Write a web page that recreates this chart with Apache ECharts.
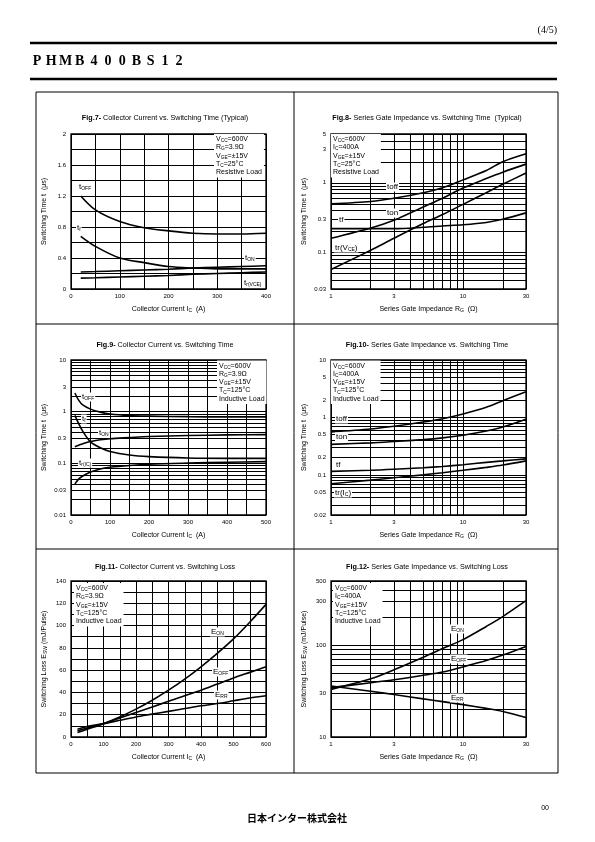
<!DOCTYPE html>
<html><head><meta charset="utf-8">
<script src="https://cdn.jsdelivr.net/npm/echarts@6/dist/echarts.min.js"></script>
<style>html,body{margin:0;padding:0;background:#fff}#c{width:595px;height:842px}</style>
</head><body><div id="c"></div>
<script>
// ---------------- DATA ----------------
// Fig.7  Collector current (A) vs switching time (us), Tc=25C resistive
const f7_x    = [20, 50, 100, 150, 200, 250, 300, 350, 400];
const f7_toff = [1.20, 1.02, 0.87, 0.79, 0.75, 0.72, 0.71, 0.71, 0.72];
const f7_tf   = [0.68, 0.55, 0.40, 0.34, 0.29, 0.27, 0.26, 0.26, 0.26];
const f7_ton  = [0.22, 0.225, 0.235, 0.245, 0.255, 0.27, 0.28, 0.29, 0.30];
const f7_tr   = [0.14, 0.145, 0.155, 0.165, 0.175, 0.19, 0.20, 0.21, 0.22];
const f7_xTicks = [0, 100, 200, 300, 400];
const f7_xGrid  = [0, 50, 100, 150, 200, 250, 300, 350, 400];
const f7_yTicks = [0, 0.4, 0.8, 1.2, 1.6, 2];
const f7_yGrid  = [0, 0.2, 0.4, 0.6, 0.8, 1.0, 1.2, 1.4, 1.6, 1.8, 2];

// Fig.8  Series gate impedance (ohm) vs switching time (us), Tc=25C
const f8_x    = [1, 2, 3, 5, 7, 10, 15, 20, 30];
const f8_toff = [0.50, 0.54, 0.60, 0.72, 0.85, 1.10, 1.50, 2.00, 2.60];
const f8_ton  = [0.16, 0.225, 0.29, 0.45, 0.60, 0.84, 1.15, 1.42, 1.85];
const f8_tf   = [0.22, 0.22, 0.22, 0.23, 0.24, 0.25, 0.27, 0.30, 0.37];
const f8_tr   = [0.057, 0.108, 0.16, 0.26, 0.35, 0.49, 0.72, 0.95, 1.38];
const f8_yTicks = [0.03, 0.1, 0.3, 1, 3, 5];
const f8_yGrid  = [0.03, 0.04, 0.05, 0.06, 0.07, 0.08, 0.09, 0.1, 0.2, 0.3, 0.4, 0.5, 0.6, 0.7, 0.8, 0.9, 1, 2, 3, 4, 5];

// Fig.9  Collector current vs switching time, Tc=125C inductive
const f9_x    = [10, 20, 30, 50, 75, 100, 150, 200, 300, 400, 500];
const f9_toff = [2.3, 1.65, 1.35, 1.12, 0.98, 0.90, 0.84, 0.82, 0.80, 0.79, 0.79];
const f9_tf   = [0.85, 0.58, 0.42, 0.26, 0.20, 0.17, 0.145, 0.135, 0.127, 0.125, 0.125];
const f9_ton  = [0.21, 0.225, 0.24, 0.265, 0.285, 0.30, 0.315, 0.33, 0.345, 0.355, 0.36];
const f9_tr   = [0.04, 0.05, 0.057, 0.068, 0.078, 0.084, 0.091, 0.096, 0.101, 0.105, 0.108];
const f9_xTicks = [0, 100, 200, 300, 400, 500];
const f9_xGrid  = [0, 50, 100, 150, 200, 250, 300, 350, 400, 450, 500];
const f9_yTicks = [0.01, 0.03, 0.1, 0.3, 1, 3, 10];
const f9_yGrid  = [0.01, 0.02, 0.03, 0.04, 0.05, 0.06, 0.07, 0.08, 0.09, 0.1, 0.2, 0.3, 0.4, 0.5, 0.6, 0.7, 0.8, 0.9, 1, 2, 3, 4, 5, 6, 7, 8, 9, 10];

// Fig.10 Series gate impedance vs switching time, Tc=125C inductive
const f10_x    = [1, 2, 3, 5, 7, 10, 15, 20, 30];
const f10_toff = [0.56, 0.63, 0.70, 0.83, 0.95, 1.15, 1.50, 1.95, 2.80];
const f10_ton  = [0.34, 0.36, 0.38, 0.41, 0.44, 0.49, 0.58, 0.68, 0.93];
const f10_tf   = [0.115, 0.12, 0.125, 0.133, 0.14, 0.15, 0.165, 0.175, 0.19];
const f10_tr   = [0.07, 0.081, 0.089, 0.10, 0.109, 0.12, 0.135, 0.148, 0.175];
const f10_yTicks = [0.02, 0.05, 0.1, 0.2, 0.5, 1, 2, 5, 10];
const f10_yGrid  = [0.02, 0.03, 0.04, 0.05, 0.06, 0.07, 0.08, 0.09, 0.1, 0.2, 0.3, 0.4, 0.5, 0.6, 0.7, 0.8, 0.9, 1, 2, 3, 4, 5, 6, 7, 8, 9, 10];

// Fig.11 Collector current vs switching loss (mJ/pulse)
const f11_x    = [20, 50, 100, 150, 200, 250, 300, 350, 400, 450, 500, 550, 600];
const f11_eon  = [4, 7, 12, 18, 25, 33, 42, 52, 63, 75, 88, 103, 119];
const f11_eoff = [5.5, 8, 12, 17, 22, 27, 32, 37, 42, 47.5, 53, 58, 63];
const f11_err  = [7, 9.5, 12, 15, 18, 20.5, 23, 25.5, 28, 30, 32.5, 35, 37];
const f11_xTicks = [0, 100, 200, 300, 400, 500, 600];
const f11_xGrid  = [0, 50, 100, 150, 200, 250, 300, 350, 400, 450, 500, 550, 600];
const f11_yTicks = [0, 20, 40, 60, 80, 100, 120, 140];
const f11_yGrid  = [0, 10, 20, 30, 40, 50, 60, 70, 80, 90, 100, 110, 120, 130, 140];

// Fig.12 Series gate impedance vs switching loss
const f12_x    = [1, 2, 3, 5, 7, 10, 15, 20, 30];
const f12_eon  = [33, 43, 54, 74, 92, 115, 160, 205, 305];
const f12_eoff = [34.5, 39, 42, 47, 51, 58, 68, 78, 97];
const f12_err  = [36, 31.5, 29, 26, 24.3, 22.5, 20.5, 19, 16.3];
const f12_yTicks = [10, 30, 100, 300, 500];
const f12_yGrid  = [10, 20, 30, 40, 50, 60, 70, 80, 90, 100, 200, 300, 400, 500];

// shared log x axis for Rg charts
const rgTicks = [1, 3, 10, 30];
const rgGrid  = [1, 2, 3, 4, 5, 6, 7, 8, 9, 10, 20, 30];

// ---------------- CHART ----------------
const FONT = '"Liberation Sans", Arial, sans-serif';
const chart = echarts.init(document.getElementById('c'), null, {renderer: 'canvas'});

const fmt = v => String(+(+v).toPrecision(6));

const grids = [
  {left: 71,  top: 134, width: 195, height: 155},
  {left: 331, top: 134, width: 195, height: 155},
  {left: 71,  top: 360, width: 195, height: 155},
  {left: 331, top: 360, width: 195, height: 155},
  {left: 71,  top: 581, width: 195, height: 156},
  {left: 331, top: 581, width: 195, height: 156}
].map(g => Object.assign({show: true, borderColor: '#000', borderWidth: 1.3, backgroundColor: 'transparent'}, g));

const nameStyle = {
  fontSize: 7, fontFamily: FONT, color: '#000',
  rich: {s: {fontSize: 5, fontFamily: FONT, color: '#000', verticalAlign: 'bottom', padding: [3, 0, 0, 0]}}
};

function axis(dim, gi, type, min, max, grid, labels, name) {
  const a = {
    type, gridIndex: gi, min, max,
    axisLine: {show: false},
    axisTick: {show: false, customValues: grid},
    axisLabel: {customValues: labels, formatter: fmt, fontSize: 6, color: '#000', fontFamily: FONT, margin: dim === 'x' ? 4 : 5},
    splitLine: {show: true, lineStyle: {color: '#000', width: 1}},
    name, nameLocation: 'middle', nameGap: dim === 'x' ? 16 : 23, nameTextStyle: nameStyle
  };
  if (type === 'log') a.logBase = 10;
  return a;
}

const xNameI = 'Collector Current I{s|C}  (A)';
const xNameR = 'Series Gate Impedance R{s|G}  (Ω)';
const yNameT = 'Switching Time t  (μs)';
const yNameE = 'Switching Loss E{s|SW} (mJ/Pulse)';

const xAxes = [
  axis('x', 0, 'value', 0, 400, f7_xGrid, f7_xTicks, xNameI),
  axis('x', 1, 'log', 1, 30, rgGrid, rgTicks, xNameR),
  axis('x', 2, 'value', 0, 500, f9_xGrid, f9_xTicks, xNameI),
  axis('x', 3, 'log', 1, 30, rgGrid, rgTicks, xNameR),
  axis('x', 4, 'value', 0, 600, f11_xGrid, f11_xTicks, xNameI),
  axis('x', 5, 'log', 1, 30, rgGrid, rgTicks, xNameR)
];
const yAxes = [
  axis('y', 0, 'value', 0, 2, f7_yGrid, f7_yTicks, yNameT),
  axis('y', 1, 'log', 0.03, 5, f8_yGrid, f8_yTicks, yNameT),
  axis('y', 2, 'log', 0.01, 10, f9_yGrid, f9_yTicks, yNameT),
  axis('y', 3, 'log', 0.02, 10, f10_yGrid, f10_yTicks, yNameT),
  axis('y', 4, 'value', 0, 140, f11_yGrid, f11_yTicks, yNameE),
  axis('y', 5, 'log', 10, 500, f12_yGrid, f12_yTicks, yNameE)
];

function line(i, name, xs, ys) {
  return {
    type: 'line', name, xAxisIndex: i, yAxisIndex: i,
    data: xs.map((x, k) => [x, ys[k]]),
    smooth: 0.3, symbol: 'none', showSymbol: false,
    lineStyle: {color: '#000', width: 1.6}, silent: true, z: 3, animation: false
  };
}

const series = [
  line(0, 'tOFF', f7_x, f7_toff), line(0, 'tf', f7_x, f7_tf), line(0, 'tON', f7_x, f7_ton), line(0, 'tr', f7_x, f7_tr),
  line(1, 'toff', f8_x, f8_toff), line(1, 'ton', f8_x, f8_ton), line(1, 'tf', f8_x, f8_tf), line(1, 'tr', f8_x, f8_tr),
  line(2, 'tOFF', f9_x, f9_toff), line(2, 'tf', f9_x, f9_tf), line(2, 'tON', f9_x, f9_ton), line(2, 'tr', f9_x, f9_tr),
  line(3, 'toff', f10_x, f10_toff), line(3, 'ton', f10_x, f10_ton), line(3, 'tf', f10_x, f10_tf), line(3, 'tr', f10_x, f10_tr),
  line(4, 'EON', f11_x, f11_eon), line(4, 'EOFF', f11_x, f11_eoff), line(4, 'ERR', f11_x, f11_err),
  line(5, 'EON', f12_x, f12_eon), line(5, 'EOFF', f12_x, f12_eoff), line(5, 'ERR', f12_x, f12_err)
];

// ---------------- GRAPHICS (page furniture, annotations) ----------------
const G = [];
function hline(x1, x2, y, w) { G.push({type: 'line', z: 30, shape: {x1, y1: y, x2, y2: y}, style: {stroke: '#000', lineWidth: w}}); }
function vline(x, y1, y2, w) { G.push({type: 'line', z: 30, shape: {x1: x, y1, x2: x, y2}, style: {stroke: '#000', lineWidth: w}}); }
function text(x, y, t, st) {
  G.push({type: 'text', z: 40, x, y, style: Object.assign({text: t, fill: '#000', fontFamily: FONT, fontSize: 7}, st || {})});
}

// header
text(557, 30, '(4/5)', {fontFamily: '"Liberation Serif", serif', fontSize: 10, align: 'right', verticalAlign: 'middle'});
hline(30, 557, 43, 2.5);
const pn = 'PHMB400BS12';
text(30, 61, pn.split('').map(c => '{c|' + c + '}').join(''), {
  verticalAlign: 'middle',
  rich: {c: {fontFamily: '"Liberation Serif", "DejaVu Serif", serif', fontWeight: 'bold', fontSize: 14, width: 14.2, align: 'center', fill: '#000'}}
});
hline(30, 557, 79, 2.5);

// outer box
G.push({type: 'rect', z: 30, shape: {x: 36, y: 92, width: 522, height: 681}, style: {fill: 'none', stroke: '#000', lineWidth: 1}});
vline(294, 92, 773, 1);
hline(36, 558, 324, 1);
hline(36, 558, 549, 1);

// titles
const titleRich = {
  b: {fontFamily: FONT, fontSize: 7.2, fontWeight: 'bold', fill: '#000'},
  n: {fontFamily: FONT, fontSize: 7.2, fill: '#000'}
};
function title(x, y, fig, rest) { text(x, y, '{b|' + fig + '}{n|' + rest + '}', {align: 'center', verticalAlign: 'middle', rich: titleRich}); }
title(165, 118, 'Fig.7-', ' Collector Current vs. Switching Time (Typical)');
title(427, 118, 'Fig.8-', ' Series Gate Impedance vs. Switching Time  (Typical)');
title(165, 345, 'Fig.9-', ' Collector Current vs. Switching Time');
title(427, 345, 'Fig.10-', ' Series Gate Impedance vs. Switching Time');
title(165, 567, 'Fig.11-', ' Collector Current vs. Switching Loss');
title(427, 567, 'Fig.12-', ' Series Gate Impedance vs. Switching Loss');

// condition boxes
const condRich = {
  n: {fontFamily: FONT, fontSize: 7, fill: '#000', lineHeight: 8.3},
  s: {fontFamily: FONT, fontSize: 4.8, fill: '#000', verticalAlign: 'bottom'}
};
function cond(x, y, lines) {
  text(x, y, lines.join('\n'), {verticalAlign: 'top', rich: condRich, backgroundColor: '#fff', padding: [1, 2, 1, 2]});
}
const L_VCC = '{n|V}{s|CC}{n|=600V}';
const L_RG = '{n|R}{s|G}{n|=3.9Ω}';
const L_IC = '{n|I}{s|C}{n|=400A}';
const L_VGE = '{n|V}{s|GE}{n|=±15V}';
const L_TC25 = '{n|T}{s|C}{n|=25°C}';
const L_TC125 = '{n|T}{s|C}{n|=125°C}';
cond(214, 134, [L_VCC, L_RG, L_VGE, L_TC25, '{n|Resistive Load}']);
cond(331, 134, [L_VCC, L_IC, L_VGE, L_TC25, '{n|Resistive Load}']);
cond(217, 360.5, [L_VCC, L_RG, L_VGE, L_TC125, '{n|Inductive Load}']);
cond(331, 360.5, [L_VCC, L_IC, L_VGE, L_TC125, '{n|Inductive Load}']);
cond(74, 583, [L_VCC, L_RG, L_VGE, L_TC125, '{n|Inductive Load}']);
cond(333, 583, [L_VCC, L_IC, L_VGE, L_TC125, '{n|Inductive Load}']);

// curve labels
const labRich = {
  t: {fontFamily: FONT, fontSize: 8, fill: '#000', lineHeight: 9},
  s: {fontFamily: FONT, fontSize: 5, fill: '#000', verticalAlign: 'bottom'}
};
function lab(x, y, t) { text(x, y, t, {verticalAlign: 'middle', rich: labRich, backgroundColor: '#fff', padding: [0, 1, 0, 1]}); }
// fig7
lab(78, 187, '{t|t}{s|OFF}');
lab(76, 228, '{t|t}{s|f}');
lab(244, 258, '{t|t}{s|ON}');
lab(243, 283, '{t|t}{s|r(VCE)}');
// fig8
lab(386, 187, '{t|toff}');
lab(386, 213, '{t|ton}');
lab(338, 220, '{t|tf}');
lab(334, 248, '{t|tr(V}{s|CE}{t|)}');
// fig9
lab(81, 397, '{t|t}{s|OFF}');
lab(81, 419, '{t|t}{s|f}');
lab(98, 433, '{t|t}{s|ON}');
lab(78, 463, '{t|t}{s|r(IC)}');
// fig10
lab(335, 419, '{t|toff}');
lab(335, 437, '{t|ton}');
lab(335, 465, '{t|tf}');
lab(334, 493, '{t|tr(I}{s|C}{t|)}');
// fig11
lab(210, 632, '{t|E}{s|ON}');
lab(212, 672, '{t|E}{s|OFF}');
lab(214, 695, '{t|E}{s|RR}');
// fig12
lab(450, 629, '{t|E}{s|ON}');
lab(450, 659, '{t|E}{s|OFF}');
lab(450, 698, '{t|E}{s|RR}');

// footer
text(549, 808, '00', {fontSize: 7, align: 'right', verticalAlign: 'middle'});
text(297, 818, '日本インター株式会社', {fontFamily: '"Noto Sans CJK JP", sans-serif', fontSize: 10, fontWeight: 'bold', align: 'center', verticalAlign: 'middle'});

chart.setOption({
  animation: false,
  backgroundColor: '#fff',
  grid: grids,
  xAxis: xAxes,
  yAxis: yAxes,
  series,
  graphic: {elements: G}
});
</script>
</body></html>
